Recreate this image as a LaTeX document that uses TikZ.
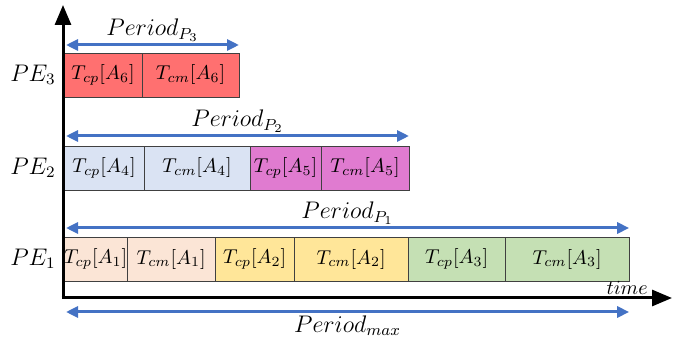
\documentclass[tikz,border=0pt]{standalone}
\usepackage{amsmath,amssymb}
\usetikzlibrary{arrows.meta, positioning}
\definecolor{spanBlue}{HTML}{4472C4}
\definecolor{taskRed}{HTML}{FF7070}
\definecolor{taskBlue}{HTML}{DAE3F3}
\definecolor{taskPink}{HTML}{E07BD0}
\definecolor{taskPeach}{HTML}{FBE5D6}
\definecolor{taskYellow}{HTML}{FFE699}
\definecolor{taskGreen}{HTML}{C5E0B4}

\begin{document}
\begin{tikzpicture}[
  x=0.5pt, y=-0.5pt,
  node distance=0pt,
  cell/.style={draw=black!75, minimum height=22pt, inner sep=0pt, outer sep=0pt, font=\normalsize},
  pelabel/.style={font=\large, inner sep=2pt},
  axis/.style={-{Triangle[length=10pt,width=8pt]}, line width=1.5pt},
  span/.style={{Triangle[length=6pt,width=5.5pt]}-{Triangle[length=6pt,width=5.5pt]}, line width=1.5pt, draw=spanBlue},
  spanlabel/.style={font=\large, inner sep=1pt, text=black}
]
  \useasboundingbox (0,0) rectangle (692,342);

  % PE3
  \node[cell, fill=taskRed, minimum width=39pt, anchor=north west] (p3a) at (64,53) {$T_{cp}[A_6]$};
  \node[cell, fill=taskRed, minimum width=48.5pt, right=of p3a] (p3b) {$T_{cm}[A_6]$};
  % PE2
  \node[cell, fill=taskBlue, minimum width=40pt, anchor=north west] (p2a) at (64,146) {$T_{cp}[A_4]$};
  \node[cell, fill=taskBlue, minimum width=53pt, right=of p2a] (p2b) {$T_{cm}[A_4]$};
  \node[cell, fill=taskPink, minimum width=35.5pt, right=of p2b] (p2c) {$T_{cp}[A_5]$};
  \node[cell, fill=taskPink, minimum width=44pt, right=of p2c] (p2d) {$T_{cm}[A_5]$};
  % PE1
  \node[cell, fill=taskPeach, minimum width=31pt, anchor=north west] (p1a) at (64,237) {$T_{cp}[A_1]$};
  \node[cell, fill=taskPeach, minimum width=44pt, right=of p1a] (p1b) {$T_{cm}[A_1]$};
  \node[cell, fill=taskYellow, minimum width=39.5pt, right=of p1b] (p1c) {$T_{cp}[A_2]$};
  \node[cell, fill=taskYellow, minimum width=57pt, right=of p1c] (p1d) {$T_{cm}[A_2]$};
  \node[cell, fill=taskGreen, minimum width=48.5pt, right=of p1d] (p1e) {$T_{cp}[A_3]$};
  \node[cell, fill=taskGreen, minimum width=62pt, right=of p1e] (p1f) {$T_{cm}[A_3]$};

  \node[pelabel, left=2pt of p3a] (pe3) {$PE_3$};
  \node[pelabel, left=2pt of p2a] (pe2) {$PE_2$};
  \node[pelabel, left=2pt of p1a] (pe1) {$PE_1$};

  % axes
  \coordinate (origin) at (63,298);
  \coordinate (ytip) at (63,5);
  \coordinate (xtip) at (672,298);
  \draw[axis] (origin) -- (ytip);
  \draw[axis] ([xshift=-0.75pt]origin) -- (xtip);
  \node[font=\normalsize, inner sep=1pt, anchor=south east] (time) at (650,297) {$time$};

  % periods
  \draw[span] ([xshift=1pt,yshift=4pt]p3a.north west) -- ([yshift=4pt]p3b.north east)
    node[midway, above, spanlabel] (per3) {$Period_{P_3}$};
  \draw[span] ([xshift=1pt,yshift=5pt]p2a.north west) -- ([yshift=5pt]p2d.north east)
    node[midway, above, spanlabel] (per2) {$Period_{P_2}$};
  \draw[span] ([xshift=1pt,yshift=4.5pt]p1a.north west) -- ([yshift=4.5pt]p1f.north east)
    node[midway, above, spanlabel] (per1) {$Period_{P_1}$};
  \draw[span] ([xshift=1pt,yshift=-15.5pt]p1a.south west) -- ([yshift=-15.5pt]p1f.south east)
    node[midway, below, spanlabel] (permax) {$Period_{max}$};
\end{tikzpicture}
\end{document}
